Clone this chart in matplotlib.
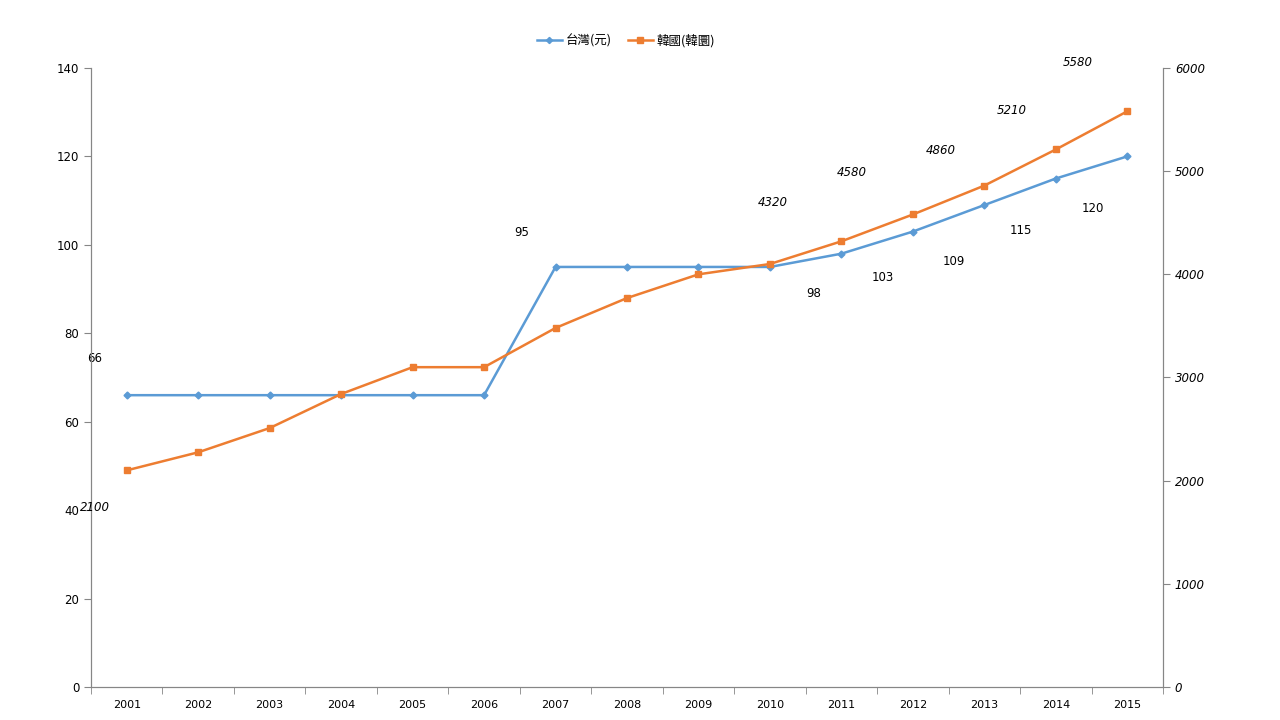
import matplotlib.pyplot as plt
import numpy as np

plt.rcParams['font.family'] = ['DejaVu Sans', 'Noto Sans CJK TC']

# data
years = ['2001', '2002', '2003', '2004', '2005', '2006', '2007', '2008',
         '2009', '2010', '2011', '2012', '2013', '2014', '2015']
taiwan = [66, 66, 66, 66, 66, 66, 95, 95, 95, 95, 98, 103, 109, 115, 120]
korea = [2100, 2275, 2510, 2840, 3100, 3100, 3480, 3770, 4000, 4100,
         4320, 4580, 4860, 5210, 5580]
taiwan_name = '台灣(元)'
korea_name = '韓國(韓圜)'

# which points carry a label, and where the label was dragged to (pixels)
tw_lbl_idx = [0, 6, 10, 11, 12, 13, 14]
tw_lbl_off = [(-32, 37), (-34, 34), (-28, -40), (-30, -46), (-30, -56), (-35, -52), (-34, -52)]
kr_lbl_idx = [0, 10, 11, 12, 13, 14]
kr_lbl_off = [(-32, -37), (-69, 39), (-61, 42), (-44, 35), (-44, 39), (-50, 49)]

blue = '#5B9BD5'
orange = '#ED7D31'
grey = '#868686'

fig = plt.figure(figsize=(12.8, 7.2), dpi=100)
ax = fig.add_axes([0.0711, 0.0458, 0.8375, 0.8598])
ax2 = ax.twinx()

x = np.arange(len(years))
l1, = ax.plot(x, taiwan, color=blue, lw=1.8, marker='D', ms=3.5, label=taiwan_name)
l2, = ax2.plot(x, korea, color=orange, lw=1.8, marker='s', ms=5, label=korea_name)

# 1 px = 0.72 pt at 100 dpi
for i, (dx, dy) in zip(tw_lbl_idx, tw_lbl_off):
    ax.annotate(str(taiwan[i]), (x[i], taiwan[i]), xytext=(dx * 0.72, dy * 0.72),
                textcoords='offset points', ha='center', va='center', fontsize=8.5)
for i, (dx, dy) in zip(kr_lbl_idx, kr_lbl_off):
    ax2.annotate(str(korea[i]), (x[i], korea[i]), xytext=(dx * 0.72, dy * 0.72),
                 textcoords='offset points', ha='center', va='center', fontsize=8.5,
                 style='italic')

ax.set_xlim(-0.5, len(years) - 0.5)
ax.set_ylim(0, 140)
ax2.set_ylim(0, 6000)
ax.set_yticks(np.arange(0, 141, 20))
ax2.set_yticks(np.arange(0, 6001, 1000))
ax.set_xticks(x)
ax.set_xticklabels(years)
ax.set_xticks(np.arange(-0.5, len(years), 1), minor=True)
ax.tick_params(axis='x', which='major', length=0, pad=9, labelsize=8)
ax.tick_params(axis='x', which='minor', length=5, color=grey)
ax.tick_params(axis='y', length=5, color=grey, labelsize=8.5)
ax2.tick_params(axis='y', length=5, color=grey, labelsize=8.5)
for lab in ax2.get_yticklabels():
    lab.set_style('italic')

for a in (ax, ax2):
    a.spines['top'].set_visible(False)
    for s in ('left', 'right', 'bottom'):
        a.spines[s].set_color(grey)

fig.legend(handles=[l1, l2], loc='center', bbox_to_anchor=(0.489, 0.944), ncol=2,
           frameon=False, handlelength=2.0, handletextpad=0.3, columnspacing=1.3,
           markerscale=0.9,
           prop={'family': ['Noto Sans CJK TC', 'DejaVu Sans'], 'size': 9})

fig.savefig('out.png', dpi=100)
